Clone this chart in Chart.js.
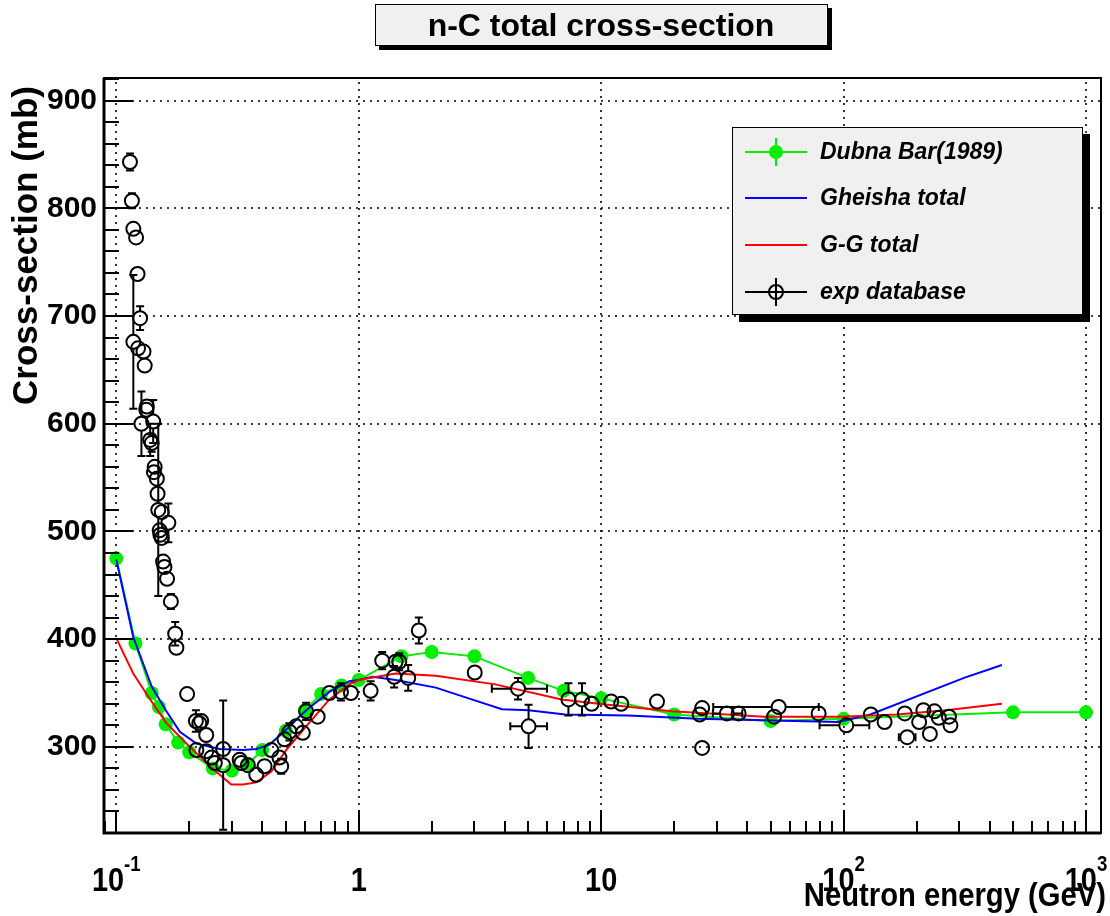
<!DOCTYPE html>
<html><head><meta charset="utf-8">
<script src="https://cdn.jsdelivr.net/npm/chart.js@4.4.1/dist/chart.umd.min.js"></script>
<style>html,body{margin:0;padding:0;background:#fff}canvas{display:block}</style>
</head><body>
<canvas id="c" width="1110" height="916"></canvas>
<script>
// ---------------- data ----------------
const dubnaEnergy = [0.1,0.12,0.14,0.15,0.16,0.18,0.2,0.25,0.3,0.35,0.4,0.5,0.6,0.7,0.85,1.0,1.5,2,3,5,7,10,20,50,100,500,1000];
const dubnaXS     = [475,396,350,337,321,304,295,280,278,284,297,315,334,349,357,362,384,388,384,364,352,345,330,324,326,332,332];

const gheishaEnergy = [0.1,0.1175,0.14,0.161,0.183,0.214,0.267,0.333,0.378,0.429,0.502,0.607,0.757,0.914,1.0,1.14,1.42,2.08,2.84,3.9,5.02,7.1,12.9,25.1,94.7,129,314,450];
const gheishaXS     = [474,402,356,333,314,303,298,297,298,302,316,334,351,361,362,365,362,355,345,335,334,330,329,326,323,330,364,376];

const ggEnergy = [0.1,0.1175,0.138,0.161,0.195,0.243,0.298,0.333,0.378,0.436,0.502,0.607,0.757,0.914,1.0,1.42,2.08,3.66,6.88,9.75,19.5,47,97.4,166,265,450];
const ggXS     = [401,368,344,322,303,282,265,265,267,277,297,319,344,358,362,368,366,358,344,340,333,328,328,330,334,340];

const expEnergy = [0.1139,0.116,0.1176,0.1207,0.1224,0.1254,0.1176,0.123,0.1295,0.131,0.1337,0.133,0.127,0.142,0.138,0.140,0.144,0.143,0.147,0.148,0.149,0.154,0.164,0.151,0.152,0.154,0.156,0.158,0.162,0.168,0.175,0.177,0.196,0.213,0.220,0.224,0.235,0.214,0.235,0.247,0.255,0.276,0.276,0.323,0.328,0.349,0.378,0.409,0.436,0.471,0.479,0.494,0.518,0.552,0.588,0.607,0.677,0.757,0.845,0.929,1.12,1.25,1.42,1.47,1.40,1.60,1.77,3.01,4.54,5.02,7.33,8.34,9.14,11.0,12.1,17.0,26.1,25.5,26.1,33.0,36.9,51.7,54.0,78.9,102.6,129.5,147.6,178.9,183,205,213.4,227,237,247,272,276];
const expXS     = [843,807,781,773,739,698,676,670,667,654,616,613,600,602,585,582,560,555,549,535,520,518,508,501,497,494,472,467,456,435,405,392,349,324,322,324,311,297,296,290,285,298,283,288,285,283,274,282,297,290,282,307,314,319,313,333,328,350,351,350,352,380,379,379,365,364,408,369,354,319,344,344,340,342,340,342,336,330,299,331,331,328,337,331,320,330,323,331,309,323,334,312,333,327,328,320];
const expErr    = [8,7,5,5,6,11,62,5,5,6,6,6,30,20,15,8,6,6,6,5,80,6,18,6,6,6,6,6,6,7,11,6,4,10,5,5,5,5,5,5,5,5,60,5,5,5,4,5,5,6,7,6,8,5,5,8,5,5,8,6,9,8,5,8,10,12,12,5,10,20,15,15,4,4,4,4,4,4,4,6,4,4,6,6,4,4,4,4,4,4,4,4,4,4,4,4];

// horizontal error bars of some exp points
const expXBarEnergy = [4.54,5.02,33.0,54.0,102.6,183];
const expXBarXS     = [354,319,331,337,320,309];
const expXBarLow    = [3.54,4.22,28.9,29,79.6,169];
const expXBarHigh   = [5.98,5.98,38.2,79,127.7,198];

const xTickValues = [0.1,1,10,100,1000];
const xTickLabels = [['10','-1'],['1',''],['10',''],['10','2'],['10','3']];
const yTickValues = [300,400,500,600,700,800,900];

const titleText = 'n-C total cross-section';
const xTitle = 'Neutron energy (GeV)';
const yTitle = 'Cross-section (mb)';
const legendLabels = ['Dubna Bar(1989)','Gheisha total','G-G total','exp database'];

const GREEN = 'rgb(0,238,0)';
const FONT = '"Liberation Sans", Arial, Helvetica, sans-serif';

// ---------------- plugin ----------------
const deco = {
  id: 'deco',
  beforeDatasetsDraw(chart) {
    const {ctx, chartArea: a, scales: {x, y}} = chart;
    ctx.save();
    ctx.strokeStyle = '#000';
    ctx.lineWidth = 1.6;
    ctx.setLineDash([2, 5]);
    xTickValues.forEach(v => {
      const px = Math.round(x.getPixelForValue(v));
      ctx.beginPath(); ctx.moveTo(px, a.bottom); ctx.lineTo(px, a.top); ctx.stroke();
    });
    yTickValues.forEach(v => {
      const py = Math.round(y.getPixelForValue(v));
      ctx.beginPath(); ctx.moveTo(a.left, py); ctx.lineTo(a.right, py); ctx.stroke();
    });
    ctx.restore();
  },
  afterDatasetsDraw(chart) {
    const {ctx, chartArea: a, scales: {x, y}} = chart;
    const r = 7, cap = 4;
    ctx.save();
    ctx.strokeStyle = '#000';
    ctx.lineWidth = 2;
    // vertical error bars
    expEnergy.forEach((e, i) => {
      const px = x.getPixelForValue(e);
      const py = y.getPixelForValue(expXS[i]);
      const up = y.getPixelForValue(expXS[i] + expErr[i]);
      const dn = y.getPixelForValue(expXS[i] - expErr[i]);
      if (py - up > r) {
        ctx.beginPath();
        ctx.moveTo(px, py - r); ctx.lineTo(px, up);
        ctx.moveTo(px - cap, up); ctx.lineTo(px + cap, up);
        ctx.moveTo(px, py + r); ctx.lineTo(px, dn);
        ctx.moveTo(px - cap, dn); ctx.lineTo(px + cap, dn);
        ctx.stroke();
      }
    });
    // horizontal error bars
    expXBarEnergy.forEach((e, i) => {
      const px = x.getPixelForValue(e);
      const py = y.getPixelForValue(expXBarXS[i]);
      const lo = x.getPixelForValue(expXBarLow[i]);
      const hi = x.getPixelForValue(expXBarHigh[i]);
      ctx.beginPath();
      if (px - lo > r) { ctx.moveTo(px - r, py); ctx.lineTo(lo, py); ctx.moveTo(lo, py - cap); ctx.lineTo(lo, py + cap); }
      if (hi - px > r) { ctx.moveTo(px + r, py); ctx.lineTo(hi, py); ctx.moveTo(hi, py - cap); ctx.lineTo(hi, py + cap); }
      ctx.stroke();
    });
    // frame
    ctx.setLineDash([]);
    ctx.lineWidth = 2;
    ctx.strokeRect(a.left, a.top, a.right - a.left, a.bottom - a.top);
    ctx.lineWidth = 3;
    ctx.beginPath();
    ctx.moveTo(a.left, a.top); ctx.lineTo(a.left, a.bottom); ctx.lineTo(a.right, a.bottom);
    ctx.stroke();
    // y ticks
    ctx.lineWidth = 2;
    ctx.beginPath();
    for (let v = 240; v <= 920; v += 20) {
      const py = Math.round(y.getPixelForValue(v));
      const len = v % 100 === 0 ? 29 : 15;
      ctx.moveTo(a.left, py); ctx.lineTo(a.left + len, py);
    }
    // x ticks
    for (let d = -2; d <= 3; d++) {
      for (let m = 1; m <= 9; m++) {
        const v = m * Math.pow(10, d);
        if (v < x.min || v > x.max) continue;
        const px = Math.round(x.getPixelForValue(v));
        const len = m === 1 ? 23 : 12;
        ctx.moveTo(px, a.bottom); ctx.lineTo(px, a.bottom - len);
      }
    }
    ctx.stroke();
    ctx.restore();
  },
  afterDraw(chart) {
    const {ctx, chartArea: a, scales: {x}} = chart;
    ctx.save();
    ctx.fillStyle = '#000';
    // x tick labels
    const sx = 0.85, baseY = 891;
    xTickValues.forEach((v, i) => {
      const px = x.getPixelForValue(v);
      const [base, sup] = xTickLabels[i];
      ctx.font = 'bold 34px ' + FONT;
      const wb = ctx.measureText(base).width * sx;
      ctx.font = 'bold 22px ' + FONT;
      const ws = sup ? ctx.measureText(sup).width * sx : 0;
      const x0 = px - (wb + ws) / 2;
      ctx.textAlign = 'left'; ctx.textBaseline = 'alphabetic';
      ctx.save(); ctx.translate(x0, baseY); ctx.scale(sx, 1);
      ctx.font = 'bold 34px ' + FONT; ctx.fillText(base, 0, 0);
      ctx.restore();
      if (sup) {
        ctx.save(); ctx.translate(x0 + wb, baseY - 20); ctx.scale(sx, 1);
        ctx.font = 'bold 22px ' + FONT; ctx.fillText(sup, 0, 0);
        ctx.restore();
      }
    });
    // x title
    ctx.save();
    ctx.translate(1106, 906); ctx.scale(0.86, 1);
    ctx.font = 'bold 34px ' + FONT; ctx.textAlign = 'right'; ctx.textBaseline = 'alphabetic';
    ctx.fillText(xTitle, 0, 0);
    ctx.restore();
    // y title
    ctx.save();
    ctx.translate(27, 86); ctx.rotate(-Math.PI / 2);
    ctx.font = 'bold 35px ' + FONT; ctx.textAlign = 'right'; ctx.textBaseline = 'middle';
    ctx.fillText(yTitle, 0, 0);
    ctx.restore();
    // title box
    ctx.fillStyle = '#000';
    ctx.fillRect(379, 8, 453, 42);
    ctx.fillStyle = '#f0f0f0';
    ctx.fillRect(375, 4, 453, 42);
    ctx.strokeStyle = '#000'; ctx.lineWidth = 1;
    ctx.strokeRect(375.5, 4.5, 452, 41);
    ctx.fillStyle = '#000';
    ctx.font = 'bold 32px ' + FONT; ctx.textAlign = 'center'; ctx.textBaseline = 'middle';
    ctx.fillText(titleText, 601, 27);
    // legend
    const L = 732, T = 127, W = 351, H = 188;
    ctx.fillStyle = '#000'; ctx.fillRect(L + 7, T + 7, W, H);
    ctx.fillStyle = '#f0f0f0'; ctx.fillRect(L, T, W, H);
    ctx.strokeRect(L + 0.5, T + 0.5, W - 1, H - 1);
    const rows = [152, 198, 245, 292];
    const x1 = 745, x2 = 807, xc = 776;
    ctx.lineWidth = 2;
    // Dubna
    ctx.strokeStyle = GREEN; ctx.fillStyle = GREEN;
    ctx.beginPath(); ctx.moveTo(x1, rows[0]); ctx.lineTo(x2, rows[0]);
    ctx.moveTo(xc, rows[0] - 14); ctx.lineTo(xc, rows[0] + 14); ctx.stroke();
    ctx.beginPath(); ctx.arc(xc, rows[0], 7, 0, Math.PI * 2); ctx.fill();
    // Gheisha
    ctx.strokeStyle = '#0000ff';
    ctx.beginPath(); ctx.moveTo(x1, rows[1]); ctx.lineTo(x2, rows[1]); ctx.stroke();
    // G-G
    ctx.strokeStyle = '#ff0000';
    ctx.beginPath(); ctx.moveTo(x1, rows[2]); ctx.lineTo(x2, rows[2]); ctx.stroke();
    // exp
    ctx.strokeStyle = '#000';
    ctx.beginPath(); ctx.moveTo(x1, rows[3]); ctx.lineTo(x2, rows[3]);
    ctx.moveTo(xc, rows[3] - 14); ctx.lineTo(xc, rows[3] + 14); ctx.stroke();
    ctx.beginPath(); ctx.arc(xc, rows[3], 7, 0, Math.PI * 2); ctx.stroke();
    ctx.fillStyle = '#000';
    ctx.font = 'italic bold 23px ' + FONT; ctx.textAlign = 'left'; ctx.textBaseline = 'middle';
    legendLabels.forEach((t, i) => ctx.fillText(t, 820, rows[i] + 1));
    ctx.restore();
  }
};

const pts = (xs, ys) => xs.map((v, i) => ({x: v, y: ys[i]}));

new Chart(document.getElementById('c'), {
  data: {
    datasets: [
      {type: 'scatter', label: legendLabels[3], data: pts(expEnergy, expXS), showLine: false,
       pointStyle: 'circle', pointRadius: 7, pointBorderWidth: 2, pointBorderColor: '#000',
       pointBackgroundColor: 'rgba(0,0,0,0)', order: 0},
      {type: 'line', label: legendLabels[2], data: pts(ggEnergy, ggXS), borderColor: '#ff0000',
       borderWidth: 2, pointRadius: 0, tension: 0, fill: false, order: 1},
      {type: 'line', label: legendLabels[1], data: pts(gheishaEnergy, gheishaXS), borderColor: '#0000ff',
       borderWidth: 2, pointRadius: 0, tension: 0, fill: false, order: 2},
      {type: 'line', label: legendLabels[0], data: pts(dubnaEnergy, dubnaXS), borderColor: GREEN,
       backgroundColor: GREEN, borderWidth: 2, pointRadius: 7, pointBorderWidth: 0,
       pointBackgroundColor: GREEN, tension: 0, fill: false, order: 3}
    ]
  },
  options: {
    responsive: false,
    animation: false,
    events: [],
    layout: {padding: {top: 78, right: 6, left: 0, bottom: 0}},
    plugins: {legend: {display: false}, tooltip: {enabled: false}, title: {display: false}},
    scales: {
      x: {
        type: 'logarithmic', min: 0.089, max: 1153,
        afterBuildTicks: s => { s.ticks = xTickValues.map(v => ({value: v})); },
        ticks: {display: false},
        grid: {display: false},
        border: {display: false},
        afterFit: s => { s.height = 83; }
      },
      y: {
        type: 'linear', min: 220, max: 921,
        afterBuildTicks: s => { s.ticks = yTickValues.map(v => ({value: v})); },
        ticks: {color: '#000', padding: 7, font: {family: FONT, size: 30, weight: 'bold'}},
        grid: {display: false, drawTicks: false},
        border: {display: false},
        afterFit: s => { s.width = 104; }
      }
    }
  },
  plugins: [deco]
});
</script>
</body></html>
